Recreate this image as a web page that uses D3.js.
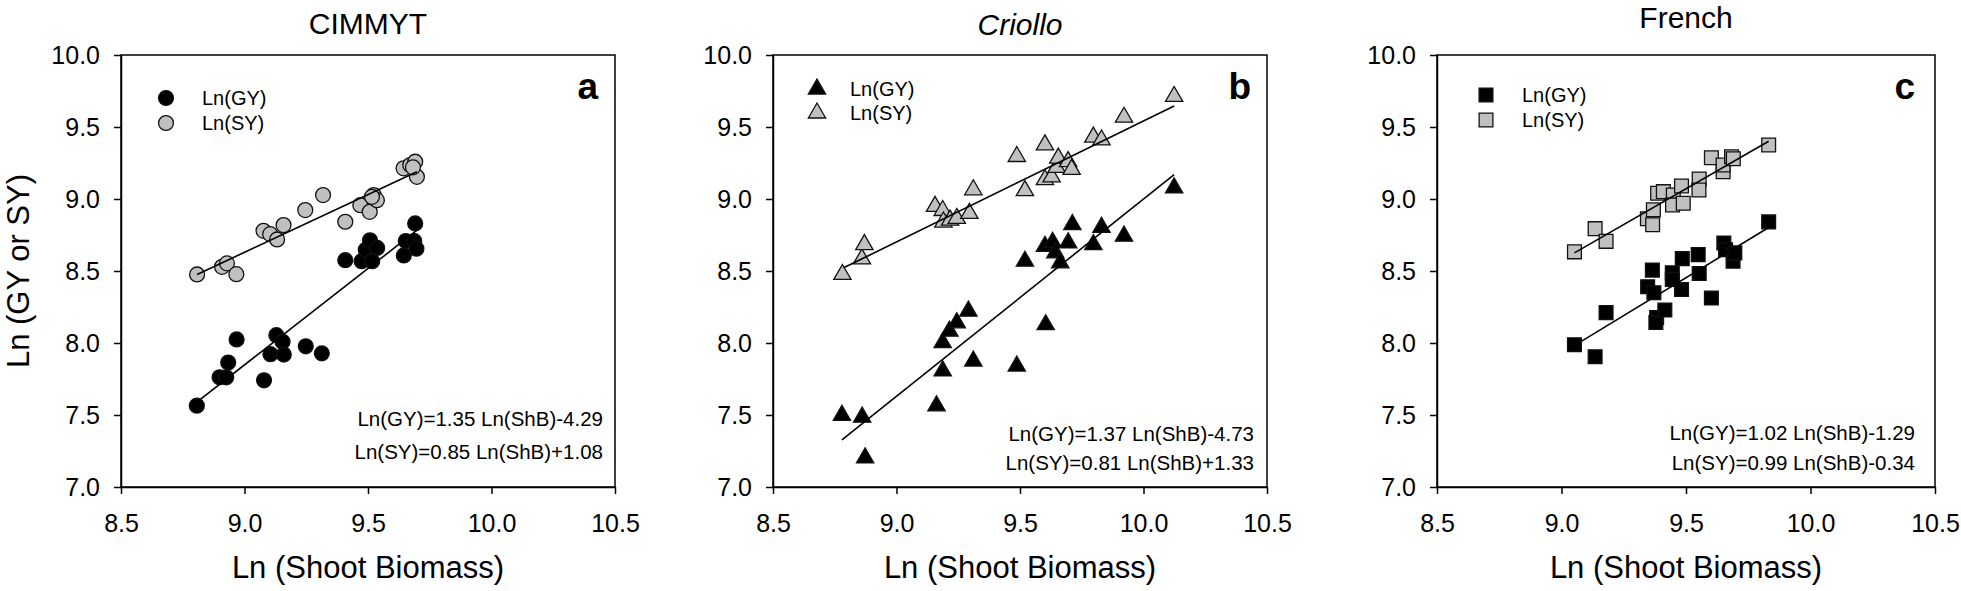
<!DOCTYPE html>
<html>
<head>
<meta charset="utf-8">
<script src="https://cdn.jsdelivr.net/npm/d3@7"></script>
<style>
  body { margin: 0; background: #fff; }
  svg { display: block; font-family: "Liberation Sans", Arial, sans-serif; }
  .axis path, .axis line { stroke: #000; stroke-width: 1.5; }
  .axis text { font-size: 25px; fill: #000; }
</style>
</head>
<body>
<div id="chart"></div>
<script>
const width = 1961;
const height = 591;

const xTicks = [8.5, 9.0, 9.5, 10.0, 10.5];
const yTicks = [7.0, 7.5, 8.0, 8.5, 9.0, 9.5, 10.0];
const seriesNames = ["Ln(GY)", "Ln(SY)"];
const panelTitles = ["CIMMYT", "Criollo", "French"];
const panelLetters = ["a", "b", "c"];

// [Ln(ShB), Ln(GY or SY)]
const cimmytGY = [
  [8.807, 7.565], [8.899, 7.762], [8.926, 7.762], [8.934, 7.864], [8.968, 8.025],
  [9.079, 7.741], [9.105, 7.922], [9.129, 8.054], [9.154, 8.009], [9.159, 7.920],
  [9.248, 7.977], [9.313, 7.928], [9.408, 8.575], [9.474, 8.568], [9.491, 8.647],
  [9.508, 8.713], [9.517, 8.568], [9.537, 8.660], [9.645, 8.608], [9.653, 8.708],
  [9.687, 8.708], [9.696, 8.655], [9.691, 8.830]
];
const cimmytSY = [
  [8.808, 8.476], [8.909, 8.529], [8.929, 8.553], [8.967, 8.478], [9.077, 8.779],
  [9.104, 8.756], [9.132, 8.719], [9.158, 8.819], [9.246, 8.923], [9.318, 9.027],
  [9.408, 8.842], [9.469, 8.957], [9.507, 8.911], [9.523, 9.027], [9.536, 8.992],
  [9.516, 9.015], [9.644, 9.213], [9.671, 9.236], [9.691, 9.259], [9.698, 9.154],
  [9.682, 9.220]
];
const criolloGY = [
  [8.779, 7.498], [8.861, 7.485], [8.873, 7.202], [9.162, 7.564], [9.187, 7.806],
  [9.187, 8.002], [9.214, 8.082], [9.244, 8.140], [9.291, 8.221], [9.311, 7.875],
  [9.487, 7.840], [9.520, 8.568], [9.604, 8.127], [9.601, 8.671], [9.632, 8.699],
  [9.643, 8.626], [9.663, 8.557], [9.695, 8.695], [9.712, 8.822], [9.797, 8.683],
  [9.830, 8.803], [9.921, 8.742], [10.124, 9.078]
];
const criolloSY = [
  [8.781, 8.476], [8.860, 8.584], [8.870, 8.683], [9.156, 8.949], [9.187, 8.920],
  [9.190, 8.840], [9.217, 8.853], [9.244, 8.865], [9.295, 8.900], [9.311, 9.064],
  [9.487, 9.295], [9.520, 9.058], [9.601, 9.376], [9.601, 9.134], [9.628, 9.153],
  [9.648, 9.220], [9.655, 9.284], [9.695, 9.260], [9.709, 9.206], [9.797, 9.430],
  [9.830, 9.410], [9.921, 9.568], [10.124, 9.712]
];
const frenchGY = [
  [9.052, 7.988], [9.135, 7.905], [9.179, 8.211], [9.346, 8.391], [9.365, 8.506],
  [9.371, 8.349], [9.382, 8.177], [9.379, 8.142], [9.415, 8.229], [9.445, 8.488],
  [9.445, 8.441], [9.485, 8.586], [9.482, 8.372], [9.549, 8.614], [9.553, 8.483],
  [9.602, 8.312], [9.652, 8.695], [9.659, 8.648], [9.689, 8.568], [9.696, 8.626],
  [9.832, 8.841]
];
const frenchSY = [
  [9.052, 8.633], [9.135, 8.794], [9.179, 8.706], [9.345, 8.863], [9.366, 8.821],
  [9.369, 8.925], [9.386, 9.040], [9.409, 9.051], [9.449, 9.028], [9.446, 8.959],
  [9.489, 8.971], [9.482, 9.090], [9.553, 9.139], [9.552, 9.063], [9.602, 9.287],
  [9.649, 9.189], [9.649, 9.236], [9.683, 9.293], [9.690, 9.280], [9.832, 9.375]
];

// regression line end points as drawn
const cimmytFitGY = [[8.807, 7.590], [9.696, 8.780]];
const cimmytFitSY = [[8.808, 8.476], [9.698, 9.189]];
const criolloFitGY = [[8.779, 7.328], [10.124, 9.170]];
const criolloFitSY = [[8.786, 8.522], [10.124, 9.646]];
const frenchFitGY = [[9.081, 8.013], [9.832, 8.802]];
const frenchFitSY = [[9.052, 8.626], [9.832, 9.401]];

const equationsGY = ["Ln(GY)=1.35 Ln(ShB)-4.29", "Ln(GY)=1.37 Ln(ShB)-4.73", "Ln(GY)=1.02 Ln(ShB)-1.29"];
const equationsSY = ["Ln(SY)=0.85 Ln(ShB)+1.08", "Ln(SY)=0.81 Ln(ShB)+1.33", "Ln(SY)=0.99 Ln(ShB)-0.34"];

const panels = [
  { left: 121, right: 615, gy: cimmytGY, sy: cimmytSY, fitGY: cimmytFitGY, fitSY: cimmytFitSY,
    shape: d3.symbolCircle, size: 175, titleY: 34, italic: false,
    legendX: 45, legendY: [98, 123], legendText: 81, eqY: [426, 459], eqRight: 12, letterRight: 17 },
  { left: 773, right: 1267, gy: criolloGY, sy: criolloSY, fitGY: criolloFitGY, fitSY: criolloFitSY,
    shape: d3.symbolTriangle, size: 130, titleY: 35, italic: true,
    legendX: 44, legendY: [89, 113], legendText: 77, eqY: [441, 470], eqRight: 13, letterRight: 16 },
  { left: 1437, right: 1935, gy: frenchGY, sy: frenchSY, fitGY: frenchFitGY, fitSY: frenchFitSY,
    shape: d3.symbolSquare, size: 190, titleY: 28, italic: false,
    legendX: 49, legendY: [95, 120], legendText: 85, eqY: [440, 470], eqRight: 20, letterRight: 20 }
];

const plotTop = 55;
const plotBottom = 487;

const svg = d3.select("#chart")
  .append("svg")
  .attr("width", width)
  .attr("height", height);

const line = d3.line();

panels.forEach((p, i) => {
  const x = d3.scaleLinear().domain([8.5, 10.5]).range([p.left, p.right]);
  const y = d3.scaleLinear().domain([7, 10]).range([plotBottom, plotTop]);
  const g = svg.append("g");

  g.append("g")
    .attr("class", "axis")
    .attr("transform", `translate(0,${plotBottom})`)
    .call(d3.axisBottom(x).tickValues(xTicks).tickFormat(d3.format(".1f")).tickSize(7).tickSizeOuter(0).tickPadding(20));

  g.append("g")
    .attr("class", "axis")
    .attr("transform", `translate(${p.left},0)`)
    .call(d3.axisLeft(y).tickValues(yTicks).tickFormat(d3.format(".1f")).tickSize(7).tickSizeOuter(0).tickPadding(14));

  // frame
  g.append("rect")
    .attr("x", p.left)
    .attr("y", plotTop)
    .attr("width", p.right - p.left)
    .attr("height", plotBottom - plotTop)
    .attr("fill", "none")
    .attr("stroke", "#000")
    .attr("stroke-width", 1.5);

  const symbol = d3.symbol().type(p.shape).size(p.size);
  const series = [
    { data: p.sy, fill: "#c0c0c0" },
    { data: p.gy, fill: "#000" }
  ];

  series.forEach(s => {
    g.append("g")
      .selectAll("path")
      .data(s.data)
      .join("path")
      .attr("d", symbol)
      .attr("transform", d => `translate(${x(d[0])},${y(d[1])})`)
      .attr("fill", s.fill)
      .attr("stroke", "#111")
      .attr("stroke-width", 1.3);
  });

  [p.fitGY, p.fitSY].forEach(f => {
    g.append("path")
      .attr("d", line(f.map(d => [x(d[0]), y(d[1])])))
      .attr("fill", "none")
      .attr("stroke", "#000")
      .attr("stroke-width", 1.6);
  });

  // legend
  seriesNames.forEach((name, j) => {
    const ly = p.legendY[j];
    g.append("path")
      .attr("d", symbol)
      .attr("transform", `translate(${p.left + p.legendX},${ly})`)
      .attr("fill", j === 0 ? "#000" : "#c0c0c0")
      .attr("stroke", "#111")
      .attr("stroke-width", 1.3);
    g.append("text")
      .attr("x", p.left + p.legendText)
      .attr("y", ly + 7)
      .attr("font-size", 20)
      .text(name);
  });

  // title
  g.append("text")
    .attr("x", (p.left + p.right) / 2)
    .attr("y", p.titleY)
    .attr("text-anchor", "middle")
    .attr("font-size", 30)
    .attr("font-style", p.italic ? "italic" : "normal")
    .text(panelTitles[i]);

  // panel letter
  g.append("text")
    .attr("x", p.right - p.letterRight)
    .attr("y", 99)
    .attr("text-anchor", "end")
    .attr("font-size", 37)
    .attr("font-weight", "bold")
    .text(panelLetters[i]);

  // equations
  [equationsGY[i], equationsSY[i]].forEach((eq, j) => {
    g.append("text")
      .attr("x", p.right - p.eqRight)
      .attr("y", p.eqY[j])
      .attr("text-anchor", "end")
      .attr("font-size", 20.5)
      .text(eq);
  });

  // x axis title
  g.append("text")
    .attr("x", (p.left + p.right) / 2)
    .attr("y", 578)
    .attr("text-anchor", "middle")
    .attr("font-size", 31)
    .text("Ln (Shoot Biomass)");
});

// y axis title (first panel only)
svg.append("text")
  .attr("transform", `translate(29,${(plotTop + plotBottom) / 2}) rotate(-90)`)
  .attr("text-anchor", "middle")
  .attr("font-size", 31)
  .text("Ln (GY or SY)");
</script>
</body>
</html>
